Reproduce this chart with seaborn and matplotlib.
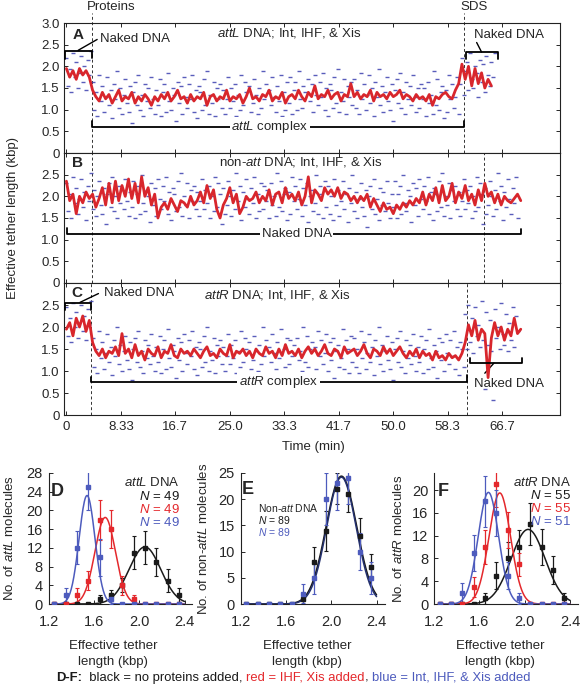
# This imports numpy for the time axes and the fitted curves.
import numpy as np

# This imports matplotlib and selects a backend that needs no display.
import matplotlib
matplotlib.use("Agg")
import matplotlib.pyplot as plt

# This imports seaborn for the plots.
import seaborn as sns

# Panels A-C: tether length traces (kbp), red = smoothed trace, blue = raw points
red_step = 0.5    # minutes between red trace points
blue_step = 0.25  # minutes between raw blue points

a_red = [1.95, 1.75, 1.9, 1.7, 1.95, 1.8, 1.9, 1.75,
         1.45, 1.3, 1.2, 1.4, 1.25, 1.35, 1.15, 1.3, 1.45, 1.2,
         1.3, 1.25, 1.4, 1.15, 1.3, 1.2, 1.35, 1.25, 1.1, 1.3,
         1.2, 1.35, 1.25, 1.4, 1.2, 1.3, 1.45, 1.25, 1.3, 1.15,
         1.35, 1.2, 1.3, 1.25, 1.4, 1.1, 1.3, 1.35, 1.2, 1.3,
         1.25, 1.45, 1.2, 1.3, 1.25, 1.35, 1.15, 1.3, 1.5, 1.25,
         1.3, 1.2, 1.35, 1.3, 1.45, 1.2, 1.3, 1.25, 1.4, 1.15,
         1.3, 1.35, 1.25, 1.45, 1.3, 1.2, 1.4, 1.3, 1.55, 1.25,
         1.35, 1.3, 1.45, 1.25, 1.35, 1.4, 1.2, 1.35, 1.3, 1.6,
         1.3, 1.4, 1.25, 1.35, 1.3, 1.45, 1.2, 1.4, 1.3, 1.35,
         1.25, 1.4, 1.3, 1.35, 1.45, 1.25, 1.35, 1.3, 1.2, 1.35,
         1.25, 1.3, 1.2, 1.35, 1.1, 1.3, 1.25, 1.35, 1.4, 1.3,
         1.25, 1.45,
         1.6, 2.05, 1.7, 2.0, 1.55, 1.95, 1.6, 1.85, 1.5, 1.7, 1.55]

a_blue_naked = [2.2, 1.55, 1.95, 1.4, 2.3, 1.75, 2.1, 1.5, 1.85, 2.25, 1.65, 2.0, 1.45, 2.15, 1.8, 2.35]
a_blue_complex = [1.65, 1.0, 1.4, 0.85, 1.8, 1.2, 1.55, 0.95, 1.3, 1.75, 1.1, 1.45, 0.8, 1.6, 1.25, 1.9, 1.05, 1.5, 0.9, 1.35,
                  1.7, 1.15, 0.95, 1.55, 0.7, 1.4, 1.65, 1.1, 1.8, 1.0, 1.35, 0.85, 1.6, 1.2, 1.5, 1.05, 1.75, 1.25, 0.9, 1.45,
                  1.1, 1.7, 0.85, 1.4, 1.6, 0.95, 1.85, 1.2, 1.0, 1.5, 1.35, 0.75, 1.65, 1.15, 1.55, 0.9, 1.75, 1.3, 1.05, 1.6,
                  1.25, 1.8, 0.95, 1.45, 0.8, 1.55, 1.4, 1.0, 1.7, 1.1, 1.9, 0.9, 1.35, 1.15, 1.65, 0.85, 1.5, 1.25, 1.6, 1.05,
                  1.45, 0.9, 1.25, 1.75, 1.05, 1.5, 1.2, 1.6, 0.85, 1.35, 1.0, 1.8, 1.1, 1.65, 1.4, 0.7, 1.55, 0.95, 1.15, 1.7,
                  1.35, 0.9, 1.5, 1.05, 1.9, 1.25, 1.6, 0.8, 1.45, 1.1, 1.75, 1.3, 0.95, 1.55, 1.2, 1.8, 0.85, 1.4, 1.0, 1.65,
                  1.15, 1.75, 0.9, 1.45, 1.65, 1.0, 1.9, 1.25, 1.05, 1.55, 1.4, 0.8, 1.7, 1.2, 1.6, 0.95, 1.8, 1.35, 1.1, 1.65,
                  1.3, 1.85, 1.0, 1.5, 0.85, 1.6, 1.45, 1.05, 1.75, 1.15, 1.95, 0.95, 1.4, 1.2, 1.7, 0.9, 1.55, 1.3, 1.65, 1.1,
                  1.7, 1.05, 1.45, 0.9, 1.85, 1.25, 1.6, 1.0, 1.35, 1.8, 1.15, 1.5, 0.85, 1.65, 1.3, 1.95, 1.1, 1.55, 0.95, 1.4,
                  1.75, 1.2, 1.0, 1.6, 0.75, 1.45, 1.7, 1.15, 1.85, 1.05, 1.4, 0.9, 1.65, 1.25, 1.55, 1.1, 1.8, 1.3, 0.95, 1.5,
                  1.05, 1.6, 1.25, 1.5, 0.85, 1.65, 1.15, 1.35, 0.9, 1.9, 1.1, 1.7, 1.0, 1.4, 1.55, 0.8, 1.45, 0.95, 1.8, 1.25,
                  1.6, 1.05, 1.3, 1.75, 0.9]
a_blue_sds = [1.6, 2.2, 1.35, 1.9, 2.1, 1.45, 2.3, 1.7, 1.5, 2.0, 1.85, 1.3, 2.15, 1.65, 2.05, 1.4, 2.25, 1.8, 1.55, 2.1, 1.75, 2.3]

b_red = [2.35, 1.9, 2.05, 1.6, 2.0, 1.85, 2.1, 1.95, 2.05, 1.75,
         1.95, 2.2, 1.8, 2.3, 1.85, 2.35, 1.9, 2.25, 2.0, 2.4,
         1.95, 2.3, 1.85, 2.45, 2.0, 2.2, 1.8, 2.05, 1.5, 1.75,
         1.85, 1.7, 1.95, 1.8, 1.65, 1.9, 1.85, 1.75, 2.0, 1.8,
         1.9, 2.1, 1.85, 2.25, 1.95, 2.15, 1.7, 1.5, 1.8, 1.95,
         2.2, 1.85, 2.05, 1.6, 1.75, 2.0, 1.9, 1.95, 2.1, 1.85,
         2.0, 1.9, 2.15, 1.8, 2.05, 2.1, 1.85, 2.2, 1.95, 2.05,
         1.9, 2.1, 1.8, 2.0, 2.45, 1.85, 2.15, 2.05, 1.9, 2.2,
         2.05, 2.15, 2.0, 2.2, 1.95, 2.1, 2.05, 1.9, 2.0, 1.85,
         2.0, 1.9, 2.05, 1.75, 1.95, 1.8, 1.65, 1.85, 1.7, 1.75,
         1.6, 1.8, 1.7, 1.85, 1.75, 1.9, 1.8, 1.95, 1.85, 2.1,
         1.8, 2.05, 1.9, 2.2, 1.85, 2.25, 1.9, 2.0, 2.3, 1.85,
         2.1, 1.95, 2.25, 1.9, 2.05, 1.8, 2.15, 1.9, 2.3, 2.0,
         2.1, 1.85, 2.05, 1.8, 2.0, 1.9, 1.85, 1.95, 2.05, 1.9]

b_blue = [2.3, 1.65, 2.05, 1.5, 2.45, 1.85, 2.2, 1.6, 1.95, 2.4, 1.75, 2.1, 1.45, 2.25, 1.9, 2.55, 1.7, 2.15, 1.55, 2.0,
          2.35, 1.8, 1.6, 2.2, 1.35, 2.05, 2.3, 1.75, 2.45, 1.65, 2.0, 1.5, 2.25, 1.85, 2.15, 1.7, 2.4, 1.9, 1.55, 2.1,
          1.75, 2.35, 1.5, 2.05, 2.25, 1.6, 2.5, 1.85, 1.65, 2.15, 2.0, 1.4, 2.3, 1.8, 2.2, 1.55, 2.4, 1.95, 1.7, 2.25,
          1.9, 2.45, 1.6, 2.1, 1.45, 2.2, 2.05, 1.65, 2.35, 1.75, 2.55, 1.55, 2.0, 1.8, 2.3, 1.5, 2.15, 1.9, 2.25, 1.7,
          2.1, 1.55, 1.9, 2.4, 1.7, 2.15, 1.85, 2.25, 1.5, 2.0, 1.65, 2.45, 1.75, 2.3, 2.05, 1.35, 2.2, 1.6, 1.8, 2.35,
          2.0, 1.55, 2.15, 1.7, 2.55, 1.9, 2.25, 1.45, 2.1, 1.75, 2.4, 1.95, 1.6, 2.2, 1.85, 2.45, 1.5, 2.05, 1.65, 2.3,
          1.7, 2.25, 1.9, 2.15, 1.5, 2.3, 1.8, 2.0, 1.55, 2.55, 1.75, 2.35, 1.65, 2.05, 2.2, 1.45, 2.1, 1.6, 2.45, 1.9,
          2.25, 1.7, 1.95, 2.4, 1.55, 2.2, 1.8, 2.3, 1.4, 2.0, 2.15, 1.65, 1.85, 2.5, 1.6, 2.25, 2.05, 1.5, 2.35, 1.75,
          2.25, 1.6, 2.0, 1.45, 2.4, 1.8, 2.15, 1.55, 1.9, 2.35, 1.7, 2.05, 1.4, 2.2, 1.85, 2.5, 1.65, 2.1, 1.5, 1.95,
          2.3, 1.75, 1.55, 2.15, 1.3, 2.0, 2.25, 1.7, 2.4, 1.6, 1.95, 1.45, 2.2, 1.8, 2.1, 1.65, 2.35, 1.85, 1.5, 2.05,
          1.75, 2.35, 1.5, 2.05, 2.25, 1.6, 2.5, 1.85, 1.65, 2.15, 2.0, 1.4, 2.3, 1.8, 2.2, 1.55, 2.4, 1.95, 1.7, 2.25,
          1.9, 2.45, 1.6, 2.1, 1.45, 2.2, 2.05, 1.65, 2.35, 1.75, 2.55, 1.55, 2.0, 1.8, 2.3, 1.5, 2.15, 1.9, 2.25, 1.7,
          2.1, 1.55, 1.9, 2.4, 1.7, 2.15, 1.85, 2.25, 1.5, 2.0, 1.65, 2.45, 1.75, 2.3, 2.05, 1.35, 2.2, 1.6, 1.8, 2.35,
          2.0, 1.55, 2.15, 1.7, 2.55, 1.9, 2.25, 1.45, 2.1, 1.75, 2.4, 1.95, 1.6, 2.2, 1.85, 2.45, 1.5]

c_red = [1.95, 2.1, 1.8, 2.2, 2.0, 2.25, 1.9, 2.15,
         1.65, 1.45, 1.35, 1.5, 1.3, 1.45, 1.4, 1.55, 1.35, 1.85,
         1.4, 1.5, 1.3, 1.6, 1.35, 1.45, 1.25, 1.5, 1.4, 1.35,
         1.55, 1.3, 1.45, 1.4, 1.6, 1.35, 1.3, 1.5, 1.4, 1.45,
         1.35, 1.5, 1.4, 1.3, 1.45, 1.55, 1.35, 1.4, 1.3, 1.5,
         1.4, 1.35, 1.6, 1.3, 1.45, 1.4, 1.5, 1.35, 1.45, 1.3,
         1.5, 1.4, 1.35, 1.55, 1.4, 1.45, 1.3, 1.5, 1.35, 1.6,
         1.4, 1.45, 1.35, 1.5, 1.3, 1.45, 1.55, 1.4, 1.5, 1.35,
         1.45, 1.6, 1.4, 1.35, 1.5, 1.45, 1.3, 1.55, 1.4, 1.45,
         1.5, 1.35, 1.45, 1.6, 1.4, 1.3, 1.5, 1.45, 1.35, 1.55,
         1.4, 1.5, 1.35, 1.45, 1.55, 1.4, 1.3, 1.45, 1.35, 1.5,
         1.3, 1.45, 1.35, 1.4, 1.25, 1.45, 1.3, 1.35, 1.25, 1.4,
         1.3, 1.35, 1.25, 1.4,
         1.65, 2.05, 1.8, 2.15, 1.7, 1.95, 1.85, 0.85, 1.75, 2.1, 1.8, 2.0, 1.7, 1.95, 1.8, 2.2, 1.85, 1.95]

c_blue_naked = [2.45, 1.8, 2.2, 1.65, 2.55, 2.0, 2.35, 1.75, 2.1, 2.5, 1.9, 2.25, 1.7, 2.4, 2.05, 2.6]
c_blue_complex = [1.75, 1.1, 1.5, 0.95, 1.9, 1.3, 1.65, 1.05, 1.4, 1.85, 1.2, 1.55, 0.9, 1.7, 1.35, 2.0, 1.15, 1.6, 1.0, 1.45,
                  1.8, 1.25, 1.05, 1.65, 0.8, 1.5, 1.75, 1.2, 1.9, 1.1, 1.45, 0.95, 1.7, 1.3, 1.6, 1.15, 1.85, 1.35, 1.0, 1.55,
                  1.2, 1.8, 0.95, 1.5, 1.7, 1.05, 1.95, 1.3, 1.1, 1.6, 1.45, 0.85, 1.75, 1.25, 1.65, 1.0, 1.85, 1.4, 1.15, 1.7,
                  1.35, 1.9, 1.05, 1.55, 0.9, 1.65, 1.5, 1.1, 1.8, 1.2, 2.0, 1.0, 1.45, 1.25, 1.75, 0.95, 1.6, 1.35, 1.7, 1.15,
                  1.55, 1.0, 1.35, 1.85, 1.15, 1.6, 1.3, 1.7, 0.95, 1.45, 1.1, 1.9, 1.2, 1.75, 1.5, 0.8, 1.65, 1.05, 1.25, 1.8,
                  1.45, 1.0, 1.6, 1.15, 2.0, 1.35, 1.7, 0.9, 1.55, 1.2, 1.85, 1.4, 1.05, 1.65, 1.3, 1.95, 0.95, 1.5, 1.1, 1.75,
                  1.15, 1.7, 1.35, 1.6, 0.95, 1.75, 1.25, 1.45, 1.0, 2.0, 1.2, 1.8, 1.1, 1.5, 1.65, 0.9, 1.55, 1.05, 1.9, 1.35,
                  1.7, 1.15, 1.4, 1.85, 1.0, 1.65, 1.25, 1.75, 0.85, 1.45, 1.6, 1.1, 1.3, 1.95, 1.05, 1.7, 1.5, 0.95, 1.8, 1.2,
                  1.75, 1.1, 1.5, 0.95, 1.9, 1.3, 1.65, 1.05, 1.4, 1.85, 1.2, 1.55, 0.9, 1.7, 1.35, 2.0, 1.15, 1.6, 1.0, 1.45,
                  1.8, 1.25, 1.05, 1.65, 0.8, 1.5, 1.75, 1.2, 1.9, 1.1, 1.45, 0.95, 1.7, 1.3, 1.6, 1.15, 1.85, 1.35, 1.0, 1.55,
                  1.2, 1.8, 0.95, 1.5, 1.7, 1.05, 1.95, 1.3, 1.1, 1.6, 1.45, 0.85, 1.75, 1.25, 1.65, 1.0, 1.85, 1.4, 1.15, 1.7,
                  1.35, 1.9, 1.05, 1.55, 0.9, 1.65, 1.5, 1.1]
c_blue_sds = [2.3, 1.5, 2.5, 1.65, 2.2, 1.4, 2.45, 1.8, 2.05, 1.55, 2.6, 1.7, 0.6, 2.35, 1.6, 2.15, 1.45,
              0.35, 2.4, 1.75, 2.0, 1.5, 2.55, 1.85, 1.6, 2.3, 1.45, 2.1, 1.7, 2.45, 1.55, 2.25, 1.9]

time_ticks = [0, 25 / 3, 50 / 3, 25, 100 / 3, 125 / 3, 50, 175 / 3, 200 / 3]
time_labels = ["0", "8.33", "16.7", "25.0", "33.3", "41.7", "50.0", "58.3", "66.7"]

# Panels D-F: histogram counts per bin, error bars and gaussian fits (amplitude, centre, width)
bin_x = [1.25, 1.35, 1.45, 1.55, 1.65, 1.75, 1.85, 1.95, 2.05, 2.15, 2.25, 2.35]

d_black = [0, 0, 0, 0, 1, 2, 4, 11, 12, 9, 5, 2]
d_black_err = [0, 0, 0, 0, 1, 1, 1.5, 3.5, 3.5, 3, 2.5, 1.5]
d_red = [0, 0, 2, 5, 18, 16, 4, 1, 0, 0, 0, 0]
d_red_err = [0, 0, 1.5, 2, 4.3, 4, 2, 1, 0, 0, 0, 0]
d_blue = [0, 2, 12, 25, 10, 1, 0, 0, 0, 0, 0, 0]
d_blue_err = [0, 1.5, 3.5, 5, 4, 1, 0, 0, 0, 0, 0, 0]
d_fit_black = [12.2, 2.05, 0.14]
d_fit_red = [18.5, 1.70, 0.09]
d_fit_blue = [23.2, 1.54, 0.07]

e_black = [0, 0, 0, 0, 0, 1, 8, 14, 22, 21, 13, 7]
e_black_err = [0, 0, 0, 0, 0, 1, 2.8, 3.8, 3, 3.5, 3.5, 2.5]
e_blue = [0, 0, 0, 0, 0, 2, 5, 20, 23, 24, 10, 5]
e_blue_err = [0, 0, 0, 0, 0, 1.8, 3, 5, 5, 5, 3.5, 3]
e_fit_black = [24.4, 2.09, 0.135]
e_fit_blue = [24.2, 2.09, 0.13]

f_black = [0, 0, 0, 0, 1, 5, 8, 10, 14, 10, 6, 1]
f_black_err = [0, 0, 0, 0, 1, 2.3, 2.8, 3, 3.7, 3.2, 2.5, 1]
f_red = [0, 0, 0, 3, 10, 21, 13, 7, 0, 0, 0, 0]
f_red_err = [0, 0, 0, 1.8, 3, 4, 3.2, 2, 0, 0, 0, 0]
f_blue = [0, 0, 2, 9, 18, 16, 5, 1, 0, 0, 0, 0]
f_blue_err = [0, 0, 1.6, 3.2, 4.5, 4, 2.3, 1, 0, 0, 0, 0]
f_fit_black = [13.1, 2.03, 0.15]
f_fit_red = [19.5, 1.78, 0.095]
f_fit_blue = [19.6, 1.68, 0.09]

# Colours
trace_red = "#d8262c"
dot_blue = "#3c40b0"
h_black = "#1a1a1a"
h_red = "#e4282c"
h_blue = "#4d5bbd"

# This sets the style, then the fonts (set_style resets font.family).
sns.set_style("ticks")
plt.rcParams["font.family"] = ["Liberation Sans", "DejaVu Sans"]
plt.rcParams["mathtext.fontset"] = "custom"
plt.rcParams["mathtext.rm"] = "Liberation Sans"
plt.rcParams["mathtext.it"] = "Liberation Sans:italic"
plt.rcParams["mathtext.bf"] = "Liberation Sans:bold"
plt.rcParams["axes.linewidth"] = 0.8
plt.rcParams["axes.edgecolor"] = "#222222"

W, H = 586, 694
fig = plt.figure(figsize=(W / 100, H / 100), dpi=100)


# This adds an axes from pixel edges (left, top, right, bottom).
def px_axes(x0, y0, x1, y1):
    return fig.add_axes([x0 / W, 1 - y1 / H, (x1 - x0) / W, (y1 - y0) / H])


# This writes figure text at a pixel position.
def px_text(x, y, s, **kw):
    return fig.text(x / W, 1 - y / H, s, **kw)


# This draws one time trace panel.
def draw_trace(ax, red, blue, dashes, show_x, top_label):
    t_blue = np.arange(len(blue)) * blue_step
    t_red = np.arange(len(red)) * red_step
    sns.scatterplot(x=t_blue, y=blue, ax=ax, marker="_", s=5, color=dot_blue,
                    linewidth=1.0, alpha=0.85, legend=False, zorder=2)
    sns.lineplot(x=t_red, y=red, ax=ax, color=trace_red, linewidth=2.0,
                 errorbar=None, legend=False, zorder=3)
    for t in dashes:
        ax.plot([t, t], [0, 3], color="#333333", lw=0.7, ls=(0, (3, 2.5)), zorder=1)
    ax.set_xlim(-0.37, 75.5)
    ax.set_ylim(0, 3)
    ax.set_xticks(time_ticks)
    ax.set_xticklabels(time_labels if show_x else [])
    yt = [0, 0.5, 1.0, 1.5, 2.0, 2.5, 3.0] if top_label else [0, 0.5, 1.0, 1.5, 2.0, 2.5]
    ax.set_yticks(yt)
    ax.set_yticklabels(["0" if v == 0 else f"{v:.1f}" for v in yt])
    ax.tick_params(direction="in", top=True, right=True, length=3, width=0.7,
                   labelsize=9.5, pad=3)
    ax.tick_params(axis="x", pad=4)
    ax.set_xlabel("")
    ax.set_ylabel("")


# This draws a square bracket with end ticks.
def bracket(ax, x0, x1, y, tick_l, tick_r):
    ax.plot([x0, x0, x1, x1], [tick_l, y, y, tick_r], color="black", lw=1.3,
            clip_on=False, zorder=4)


txt = dict(fontsize=9.5, va="center")
small = dict(fontsize=7.5, va="center")
white = dict(fc="white", ec="none", pad=1.2)

# Panel A
ax_a = px_axes(64, 23, 560, 153)
draw_trace(ax_a, a_red, a_blue_naked + a_blue_complex + a_blue_sds, [], False, True)
for t in [3.87, 60.8]:
    ax_a.plot([t, t], [0, 3.22], color="#333333", lw=0.7, ls=(0, (3, 2.5)), clip_on=False, zorder=1)
ax_a.text(3.15, 3.36, "Proteins", ha="left", **txt)
ax_a.text(60.3, 3.36, "SDS", ha="left", **txt)
ax_a.text(1.8, 2.72, "A", fontsize=11, fontweight="bold", ha="center", va="center")
bracket(ax_a, -0.2, 3.87, 2.36, 2.18, 2.2)
ax_a.plot([1.8, 4.7], [2.37, 2.62], color="black", lw=1)
ax_a.text(5.2, 2.62, "Naked DNA", ha="left", **txt)
ax_a.text(34.0, 2.76, "$\\mathit{attL}$ DNA; Int, IHF, & Xis", ha="center", **txt)
bracket(ax_a, 3.87, 60.8, 0.61, 0.74, 0.74)
ax_a.text(31.1, 0.61, "$\\mathit{attL}$ complex", ha="center", bbox=white, zorder=5, **txt)
bracket(ax_a, 61.05, 66.0, 2.32, 2.17, 2.17)
ax_a.plot([63.5, 62.75], [2.33, 2.55], color="black", lw=1)
ax_a.text(67.7, 2.72, "Naked DNA", ha="center", **txt)

# Panel B
ax_b = px_axes(64, 153, 560, 283)
draw_trace(ax_b, b_red, b_blue, [3.87, 63.9], False, False)
ax_b.text(1.7, 2.77, "B", fontsize=11, fontweight="bold", ha="center", va="center")
ax_b.text(35.8, 2.80, "non-$\\mathit{att}$ DNA; Int, IHF, & Xis", ha="center", **txt)
bracket(ax_b, 0.05, 69.5, 1.13, 1.27, 1.25)
ax_b.text(35.2, 1.13, "Naked DNA", ha="center", bbox=white, zorder=5, **txt)

# Panel C
ax_c = px_axes(64, 283, 560, 415)
draw_trace(ax_c, c_red, c_blue_naked + c_blue_complex + c_blue_sds, [3.7, 61.25], True, False)
ax_c.text(1.6, 2.78, "C", fontsize=11, fontweight="bold", ha="center", va="center")
bracket(ax_c, -0.2, 3.7, 2.55, 2.39, 2.39)
ax_c.plot([2.08, 4.9], [2.56, 2.76], color="black", lw=1)
ax_c.text(5.75, 2.77, "Naked DNA", ha="left", **txt)
ax_c.text(32.2, 2.73, "$\\mathit{attR}$ DNA; Int, IHF, & Xis", ha="center", **txt)
bracket(ax_c, 3.7, 61.25, 0.76, 0.87, 0.9)
ax_c.text(32.4, 0.76, "$\\mathit{attR}$ complex", ha="center", bbox=white, zorder=5, **txt)
bracket(ax_c, 61.7, 69.7, 1.19, 1.30, 1.30)
ax_c.plot([65.4, 64.0], [1.18, 0.95], color="black", lw=1)
ax_c.text(67.7, 0.70, "Naked DNA", ha="center", **txt)

px_text(13, 218, "Effective tether length (kbp)", rotation=90, ha="center", va="center", fontsize=9.5)
px_text(313, 447, "Time (min)", ha="center", va="center", fontsize=9.5)


# This draws one histogram panel with its points, error bars and gaussian fits.
def draw_hist(ax, sets, ymax, yticks, ylabel, label_x):
    grid = np.linspace(1.25, 2.4, 200)
    for counts, errs, fit, col, line_col in sets:
        amp, mu, sd = fit
        curve = amp * np.exp(-(grid - mu) ** 2 / (2 * sd ** 2))
        sns.lineplot(x=grid, y=curve, ax=ax, color=line_col, linewidth=1.1,
                     errorbar=None, legend=False, zorder=2)
        ax.errorbar(bin_x, counts, yerr=errs, fmt="s", ms=2.3, color=col, ecolor=col,
                    elinewidth=0.9, capsize=1.6, capthick=0.8, zorder=3)
    ax.set_xlim(1.2, 2.47)
    ax.set_ylim(0, ymax)
    ax.set_xticks([1.2, 1.6, 2.0, 2.4])
    ax.set_xticklabels(["1.2", "1.6", "2.0", "2.4"])
    ax.set_yticks(yticks)
    sns.despine(ax=ax)
    ax.tick_params(direction="in", length=3, width=0.7, labelsize=10.5)
    ax.tick_params(axis="x", pad=8)
    ax.tick_params(axis="y", pad=4)
    ax.set_ylabel(ylabel, fontsize=9.5)
    ax.yaxis.set_label_coords(label_x, 0.5)
    ax.set_xlabel("")


# Panel D
ax_d = px_axes(48.5, 473, 192.5, 604)
draw_hist(ax_d, [(d_black, d_black_err, d_fit_black, h_black, h_black),
                 (d_red, d_red_err, d_fit_red, h_red, h_red),
                 (d_blue, d_blue_err, d_fit_blue, h_blue, h_blue)],
          28, [0, 4, 8, 12, 16, 20, 24, 28], "No. of $\\mathit{attL}$ molecules", -0.225)
px_text(57, 491, "D", fontsize=13, fontweight="bold", ha="center", va="center")
px_text(180, 483, "$\\mathit{attL}$ DNA", ha="right", **txt)
px_text(180, 496.5, "$\\mathit{N}$ = 49", ha="right", color=h_black, **txt)
px_text(180, 509.5, "$\\mathit{N}$ = 49", ha="right", color=h_red, **txt)
px_text(180, 522.5, "$\\mathit{N}$ = 49", ha="right", color=h_blue, **txt)

# Panel E
ax_e = px_axes(240.5, 473, 384.5, 604)
draw_hist(ax_e, [(e_black, e_black_err, e_fit_black, h_black, h_black),
                 (e_blue, e_blue_err, e_fit_blue, h_blue, "#23306e")],
          25, [0, 5, 10, 15, 20, 25], "No. of non-$\\mathit{attL}$ molecules", -0.215)
px_text(248, 490, "E", fontsize=13, fontweight="bold", ha="center", va="center")
px_text(258, 508.5, "Non-$\\mathit{att}$ DNA", ha="left", **small)
px_text(258, 520.5, "$\\mathit{N}$ = 89", ha="left", color=h_black, **small)
px_text(258, 532.5, "$\\mathit{N}$ = 89", ha="left", color=h_blue, **small)

# Panel F
ax_f = px_axes(434, 473, 578, 604)
draw_hist(ax_f, [(f_black, f_black_err, f_fit_black, h_black, h_black),
                 (f_red, f_red_err, f_fit_red, h_red, h_red),
                 (f_blue, f_blue_err, f_fit_blue, h_blue, h_blue)],
          23, [0, 4, 8, 12, 16, 20], "No. of $\\mathit{attR}$ molecules", -0.2)
px_text(443, 491, "F", fontsize=13, fontweight="bold", ha="center", va="center")
px_text(571, 482, "$\\mathit{attR}$ DNA", ha="right", **txt)
px_text(571, 495.5, "$\\mathit{N}$ = 55", ha="right", color=h_black, **txt)
px_text(571, 508.5, "$\\mathit{N}$ = 55", ha="right", color=h_red, **txt)
px_text(571, 521.5, "$\\mathit{N}$ = 51", ha="right", color=h_blue, **txt)

# Shared x labels under D, E and F
for cx in [113, 307, 500]:
    px_text(cx, 654, "Effective tether\nlength (kbp)", ha="center", va="center",
            fontsize=9.5, linespacing=1.35)

# Footer line with coloured parts, placed one after another
renderer = fig.canvas.get_renderer()
footer_parts = [("D-F:", h_black, "bold"),
                ("  black = no proteins added, ", h_black, "normal"),
                ("red = IHF, Xis added", h_red, "normal"),
                (", ", h_black, "normal"),
                ("blue = Int, IHF, & Xis added", h_blue, "normal")]
x = 56
for piece, col, wt in footer_parts:
    t = px_text(x, 678, piece, color=col, fontweight=wt, fontsize=9.4, va="center", ha="left")
    x += t.get_window_extent(renderer=renderer).width

# Saves the figure.
fig.savefig("out.png", dpi=100)
